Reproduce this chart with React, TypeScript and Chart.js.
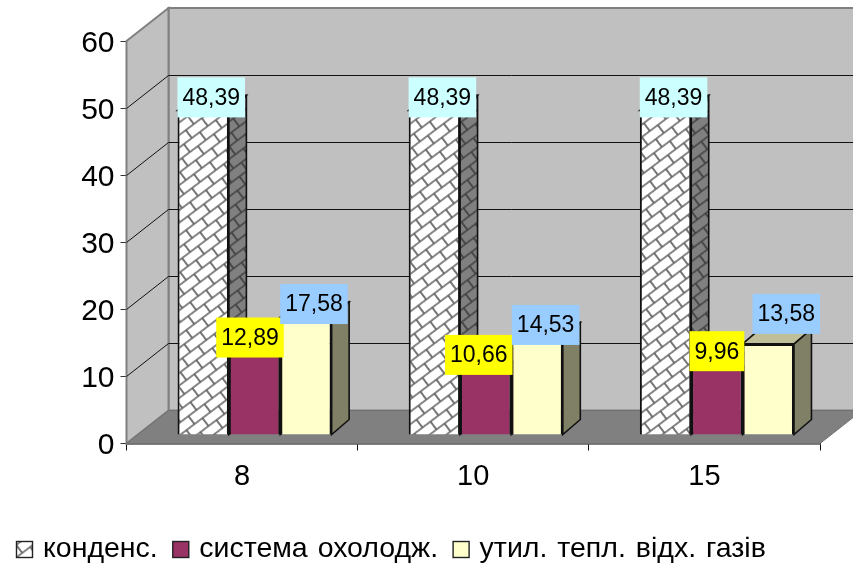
import React, { useEffect, useRef } from "react";
import { Chart, registerables } from "chart.js";

Chart.register(...registerables);

const categories = ["8", "10", "15"];
const condenser = [48.39, 48.39, 48.39];
const cooling = [12.89, 10.66, 9.96];
const exhaust = [17.58, 14.53, 13.58];
const seriesNames = ["конденс.", "система охолодж.", "утил. тепл. відх. газів"];

const FONT = "'Liberation Sans', Arial, sans-serif";

// Oblique projection of the chart box and of the bars standing inside it.
const WALL_DX = 42;
const WALL_DY = -33;
const BAR_DX = 12.5;
const BAR_DY = -8.5;
const BAR_DEPTH_X = 17.5;
const BAR_DEPTH_Y = -15;

// Hand-placed data labels, relative to the front top centre of each bar.
const labelNudge = [
  [[8, -13], [8, -13], [8, -13]],
  [[-4.6, -11], [-7, -8.6], [0, -17]],
  [[8, -13], [8.5, -12.6], [18, -30]],
];
const labelFills = ["#CCFFFF", "#FFFF00", "#99CCFF"];

// Running-bond brick fill, turned so the courses climb to the right.
function brickPattern(bg: string, line: string) {
  const length = 20;
  const course = 10;
  const tile = document.createElement("canvas");
  tile.width = length;
  tile.height = course * 2;
  const c = tile.getContext("2d")!;
  c.fillStyle = bg;
  c.fillRect(0, 0, length, course * 2);
  c.strokeStyle = line;
  c.lineWidth = 1.7;
  c.beginPath();
  c.moveTo(0, course / 2);
  c.lineTo(length, course / 2);
  c.moveTo(0, course * 1.5);
  c.lineTo(length, course * 1.5);
  c.moveTo(length / 4, course / 2);
  c.lineTo(length / 4, course * 1.5);
  c.moveTo((length * 3) / 4, course * 1.5);
  c.lineTo((length * 3) / 4, course * 2);
  c.moveTo((length * 3) / 4, 0);
  c.lineTo((length * 3) / 4, course / 2);
  c.stroke();
  const pattern = c.createPattern(tile, "repeat")!;
  pattern.setTransform(new DOMMatrix().rotate(-37));
  return pattern;
}

function polygon(ctx: CanvasRenderingContext2D, pts: number[][], fill: any, stroke?: string, lw = 1) {
  ctx.beginPath();
  pts.forEach(([x, y], i) => (i ? ctx.lineTo(x, y) : ctx.moveTo(x, y)));
  ctx.closePath();
  ctx.fillStyle = fill;
  ctx.fill();
  if (stroke) {
    ctx.strokeStyle = stroke;
    ctx.lineWidth = lw;
    ctx.stroke();
  }
}

function makeBoxPlugin(sideFills: any[], topFills: any[], legendFills: any[]) {
  return {
    id: "box3d",
    beforeDatasetsDraw(chart: any) {
      const { ctx, chartArea: a, scales } = chart;
      const y = scales.y;
      const wallGrey = "#C0C0C0";
      const edgeGrey = "#808080";
      ctx.save();
      // back wall, side wall and floor
      polygon(ctx, [[a.left + WALL_DX, a.top + WALL_DY], [a.right + WALL_DX, a.top + WALL_DY], [a.right + WALL_DX, a.bottom + WALL_DY], [a.left + WALL_DX, a.bottom + WALL_DY]], wallGrey, edgeGrey, 2);
      polygon(ctx, [[a.left, a.top], [a.left + WALL_DX, a.top + WALL_DY], [a.left + WALL_DX, a.bottom + WALL_DY], [a.left, a.bottom]], wallGrey, edgeGrey, 2);
      polygon(ctx, [[a.left, a.bottom], [a.left + WALL_DX, a.bottom + WALL_DY], [a.right + WALL_DX, a.bottom + WALL_DY], [a.right, a.bottom]], "#808080", "#707070", 1);
      // gridlines run along the side wall and across the back wall
      ctx.strokeStyle = "#111";
      ctx.lineWidth = 1;
      y.ticks.forEach((t: any) => {
        if (t.value === 0 || t.value === 60) return;
        const py = Math.round(y.getPixelForValue(t.value)) + 0.5;
        ctx.beginPath();
        ctx.moveTo(a.left, py);
        ctx.lineTo(a.left + WALL_DX, py + WALL_DY);
        ctx.lineTo(a.right + WALL_DX, py + WALL_DY);
        ctx.stroke();
      });
      // side and top faces of the bars
      chart.data.datasets.forEach((_: any, di: number) => {
        chart.getDatasetMeta(di).data.forEach((bar: any) => {
          const r = bar.x + bar.width / 2 + BAR_DX;
          const l = bar.x - bar.width / 2 + BAR_DX;
          const t = bar.y + BAR_DY;
          const b = bar.base + BAR_DY;
          polygon(ctx, [[r, t], [r + BAR_DEPTH_X, t + BAR_DEPTH_Y], [r + BAR_DEPTH_X, b + BAR_DEPTH_Y], [r, b]], sideFills[di], "#111", 1.6);
          polygon(ctx, [[l, t], [l + BAR_DEPTH_X, t + BAR_DEPTH_Y], [r + BAR_DEPTH_X, t + BAR_DEPTH_Y], [r, t]], topFills[di], "#111", 1.6);
        });
      });
      ctx.restore();
      ctx.save();
      ctx.translate(BAR_DX, BAR_DY);
    },
    afterDatasetsDraw(chart: any) {
      const { ctx } = chart;
      ctx.restore();
      ctx.save();
      ctx.font = `23px ${FONT}`;
      ctx.textAlign = "center";
      ctx.textBaseline = "middle";
      chart.data.datasets.forEach((ds: any, di: number) => {
        chart.getDatasetMeta(di).data.forEach((bar: any, i: number) => {
          const text = ds.data[i].toFixed(2).replace(".", ",");
          const [nx, ny] = labelNudge[di][i];
          const cx = bar.x + BAR_DX + nx;
          const cy = bar.y + BAR_DY + ny;
          const w = ctx.measureText(text).width + 10;
          ctx.fillStyle = labelFills[di];
          ctx.fillRect(cx - w / 2, cy - 20, w, 40);
          ctx.fillStyle = "#000";
          ctx.fillText(text, cx, cy + 1);
        });
      });
      ctx.restore();
    },
    afterDraw(chart: any) {
      // legend row under the axis
      const { ctx } = chart;
      ctx.save();
      ctx.font = `28.5px ${FONT}`;
      (ctx as any).wordSpacing = "2px";
      ctx.textAlign = "left";
      ctx.textBaseline = "middle";
      let x = 16;
      const swatch = 16;
      const rowY = 549;
      chart.data.datasets.forEach((ds: any, di: number) => {
        ctx.fillStyle = legendFills[di];
        ctx.fillRect(x + 0.5, rowY - swatch / 2 + 0.5, swatch, swatch);
        ctx.strokeStyle = "#222";
        ctx.lineWidth = 1.4;
        ctx.strokeRect(x + 0.5, rowY - swatch / 2 + 0.5, swatch, swatch);
        ctx.fillStyle = "#000";
        const textX = x + swatch + 11;
        ctx.fillText(ds.label, textX, rowY);
        x = textX + ctx.measureText(ds.label).width + 14.5;
      });
      ctx.restore();
    },
  };
}

export default function App() {
  const ref = useRef<HTMLCanvasElement>(null);

  useEffect(() => {
    const hatch = brickPattern("#FFFFFF", "#5f5f5f");
    const hatchSide = brickPattern("#808080", "#404040");
    const chart = new Chart(ref.current!, {
      type: "bar",
      data: {
        labels: categories,
        datasets: [
          { label: seriesNames[0], data: condenser, backgroundColor: hatch as any },
          { label: seriesNames[1], data: cooling, backgroundColor: "#993366" },
          { label: seriesNames[2], data: exhaust, backgroundColor: "#FFFFCC" },
        ].map((d) => ({
          ...d,
          borderColor: "#111",
          borderWidth: 2,
          categoryPercentage: 2 / 3,
          barPercentage: 1,
          clip: false as any,
        })),
      },
      options: {
        responsive: false,
        animation: false,
        layout: { padding: { top: 41, right: 33, bottom: 0, left: 0 } },
        scales: {
          x: {
            offset: true,
            afterFit: (s: any) => {
              s.height = 121.5;
            },
            grid: { drawOnChartArea: false, color: "#111", tickLength: 7, offset: true },
            border: { color: "#000", width: 1.5 },
            ticks: { color: "#000", font: { family: FONT, size: 29 }, padding: 9, maxRotation: 0 },
          },
          y: {
            min: 0,
            max: 60,
            afterFit: (s: any) => {
              s.width = 126.5;
            },
            grid: { drawOnChartArea: false, color: "#333", tickLength: 6 },
            border: { color: "#333", width: 1.5 },
            ticks: { stepSize: 10, color: "#000", font: { family: FONT, size: 30 }, padding: 6, labelOffset: 2.5 },
          },
        },
        plugins: {
          tooltip: { enabled: false },
          legend: { display: false },
        },
      },
      plugins: [
        makeBoxPlugin(
          [hatchSide, "#4D1A33", "#808066"],
          [hatch, "#B3668C", "#BFBF99"],
          [hatch, "#993366", "#FFFFCC"],
        ) as any,
      ],
    });
    return () => chart.destroy();
  }, []);

  return (
    <div style={{ position: "absolute", left: 0, top: 0, width: 853, height: 565 }}>
      <canvas ref={ref} width={853} height={565} style={{ display: "block" }} />
    </div>
  );
}
